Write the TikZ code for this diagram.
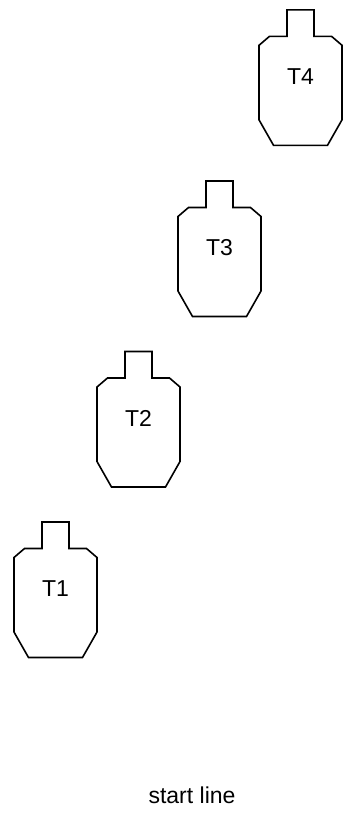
\documentclass[tikz,border=0pt]{standalone}
\usepackage{fontspec}
\setmainfont{Liberation Sans}
\begin{document}
\begin{tikzpicture}[x=1pt,y=-1pt,
  target/.style={draw=black,line width=1.6pt,line join=miter},
  lbl/.style={font=\fontsize{23}{27}\selectfont,inner sep=0pt}]
\useasboundingbox (0,0) rectangle (358,823);
\foreach \n/\cx/\ty in {1/55.5/522,2/138.5/351.5,3/219.5/181,4/300.5/9.8}{
  \draw[target] (\cx-13.5,\ty+26.5) -- (\cx-13.5,\ty) -- (\cx+13.5,\ty) -- (\cx+13.5,\ty+26.5)
     -- (\cx+31,\ty+26.5) -- (\cx+41.5,\ty+35.5) -- (\cx+41.5,\ty+110) -- (\cx+27,\ty+135.5)
     -- (\cx-27,\ty+135.5) -- (\cx-41.5,\ty+110) -- (\cx-41.5,\ty+35.5) -- (\cx-31,\ty+26.5) -- cycle;
  \node[lbl] (t\n) at (\cx,\ty+67) {T\n};
}
\node[lbl] (start) at (192,795) {start line};
\end{tikzpicture}
\end{document}
